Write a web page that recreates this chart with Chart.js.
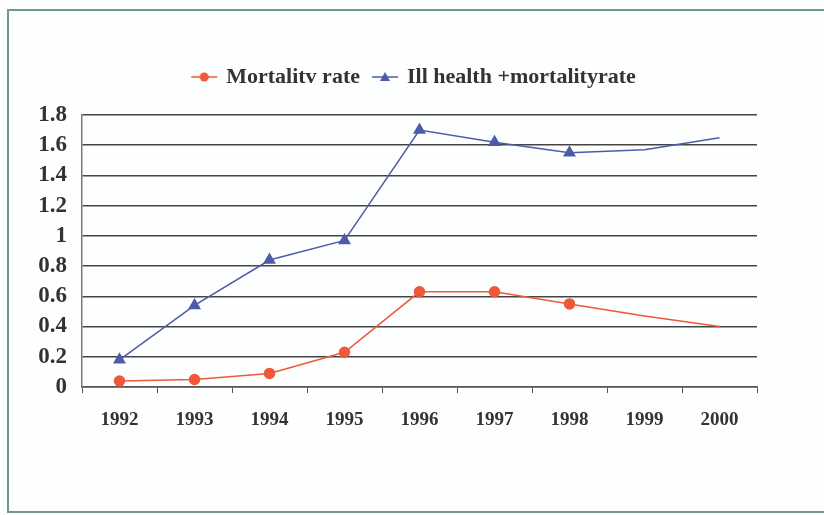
<!DOCTYPE html>
<html>
<head>
<meta charset="utf-8">
<script src="https://cdn.jsdelivr.net/npm/chart.js@4"></script>
<style>
  body { margin: 0; background: #fdfefe; }
  #frame { position: absolute; left: 7px; top: 9px; width: 830px; height: 500px; border: 2px solid #6f978d; }
  #wrap { position: absolute; left: 0; top: 0; width: 824px; height: 515px; }
</style>
</head>
<body>
<div id="frame"></div>
<div id="wrap"><canvas id="myChart"></canvas></div>
<script>
var years = ['1992', '1993', '1994', '1995', '1996', '1997', '1998', '1999', '2000'];
var mortality = [0.04, 0.05, 0.09, 0.23, 0.63, 0.63, 0.55, 0.47, 0.40];
var illHealth = [0.18, 0.54, 0.84, 0.97, 1.70, 1.62, 1.55, 1.57, 1.65];
var yTicks = [0, 0.2, 0.4, 0.6, 0.8, 1, 1.2, 1.4, 1.6, 1.8];

var red = '#f0583a';
var blue = '#4c5ca8';

// legend symbol: short line with the marker on it
function legendIcon(color, style) {
  var c = document.createElement('canvas');
  c.width = 30; c.height = 14;
  var g = c.getContext('2d');
  g.strokeStyle = color; g.fillStyle = color; g.lineWidth = 1.5;
  g.beginPath(); g.moveTo(2, 7); g.lineTo(28, 7); g.stroke();
  g.beginPath();
  if (style === 'circle') {
    g.arc(15, 7, 4.5, 0, Math.PI * 2);
  } else {
    g.moveTo(15, 2); g.lineTo(20, 11); g.lineTo(10, 11); g.closePath();
  }
  g.fill();
  return c;
}

// fixed legend height, and nudge it right like the original
var legendTweak = {
  id: 'legendTweak',
  beforeUpdate: function (c) {
    var lg = c.legend;
    if (lg && !lg._patched) {
      var fit = lg.fit, draw = lg.draw;
      lg.fit = function () { fit.call(this); this.height = 63; };
      lg.draw = function () {
        this.ctx.save();
        this.ctx.translate(28, 0);
        draw.call(this);
        this.ctx.restore();
      };
      lg._patched = true;
    }
  }
};

var ctx = document.getElementById('myChart').getContext('2d');
var chart = new Chart(ctx, {
  type: 'line',
  data: {
    labels: years,
    datasets: [{
      label: 'Mortalitv rate',
      data: mortality,
      borderColor: red,
      backgroundColor: red,
      borderWidth: 1.5,
      pointStyle: 'circle',
      pointRadius: [5, 5, 5, 5, 5, 5, 5, 0, 0],
      fill: false,
      tension: 0
    }, {
      label: 'Ill health +mortalityrate',
      data: illHealth,
      borderColor: blue,
      backgroundColor: blue,
      borderWidth: 1.5,
      pointStyle: 'triangle',
      pointRadius: [6, 6, 6, 6, 6, 6, 6, 0, 0],
      fill: false,
      tension: 0
    }]
  },
  options: {
    responsive: true,
    maintainAspectRatio: false,
    animation: false,
    layout: { padding: { left: 16, right: 67, top: 52, bottom: 78 } },
    plugins: {
      tooltip: { enabled: false },
      legend: {
        position: 'top',
        align: 'center',
        labels: {
          color: '#333',
          font: { family: 'Liberation Serif', weight: 'bold', size: 22 },
          usePointStyle: true,
          padding: 14,
          boxHeight: 14,
          generateLabels: function (c) {
            return [
              { text: 'Mortalitv rate', pointStyle: legendIcon(red, 'circle'), fontColor: '#333', datasetIndex: 0 },
              { text: 'Ill health +mortalityrate', pointStyle: legendIcon(blue, 'triangle'), fontColor: '#333', datasetIndex: 1 }
            ];
          }
        }
      }
    },
    scales: {
      x: {
        offset: true,
        grid: { display: true, drawOnChartArea: false, drawTicks: true, tickLength: 6, offset: true, color: '#555' },
        border: { color: '#555', width: 1.5 },
        ticks: { color: '#333', padding: 16, autoSkip: false, maxRotation: 0, font: { family: 'Liberation Serif', weight: 'bold', size: 19 } },
        afterFit: function (s) { s.height = 50; }
      },
      y: {
        min: 0,
        max: 1.8,
        afterBuildTicks: function (s) { s.ticks = yTicks.map(function (v) { return { value: v }; }); },
        grid: { color: '#444', lineWidth: 1.5, drawTicks: false },
        border: { color: '#777', width: 1.5 },
        ticks: {
          color: '#333',
          padding: 15,
          autoSkip: false,
          font: { family: 'Liberation Serif', weight: 'bold', size: 23 },
          callback: function (v) { return String(v); }
        },
        afterFit: function (s) { s.width = 66; }
      }
    }
  },
  plugins: [legendTweak]
});
</script>
</body>
</html>
